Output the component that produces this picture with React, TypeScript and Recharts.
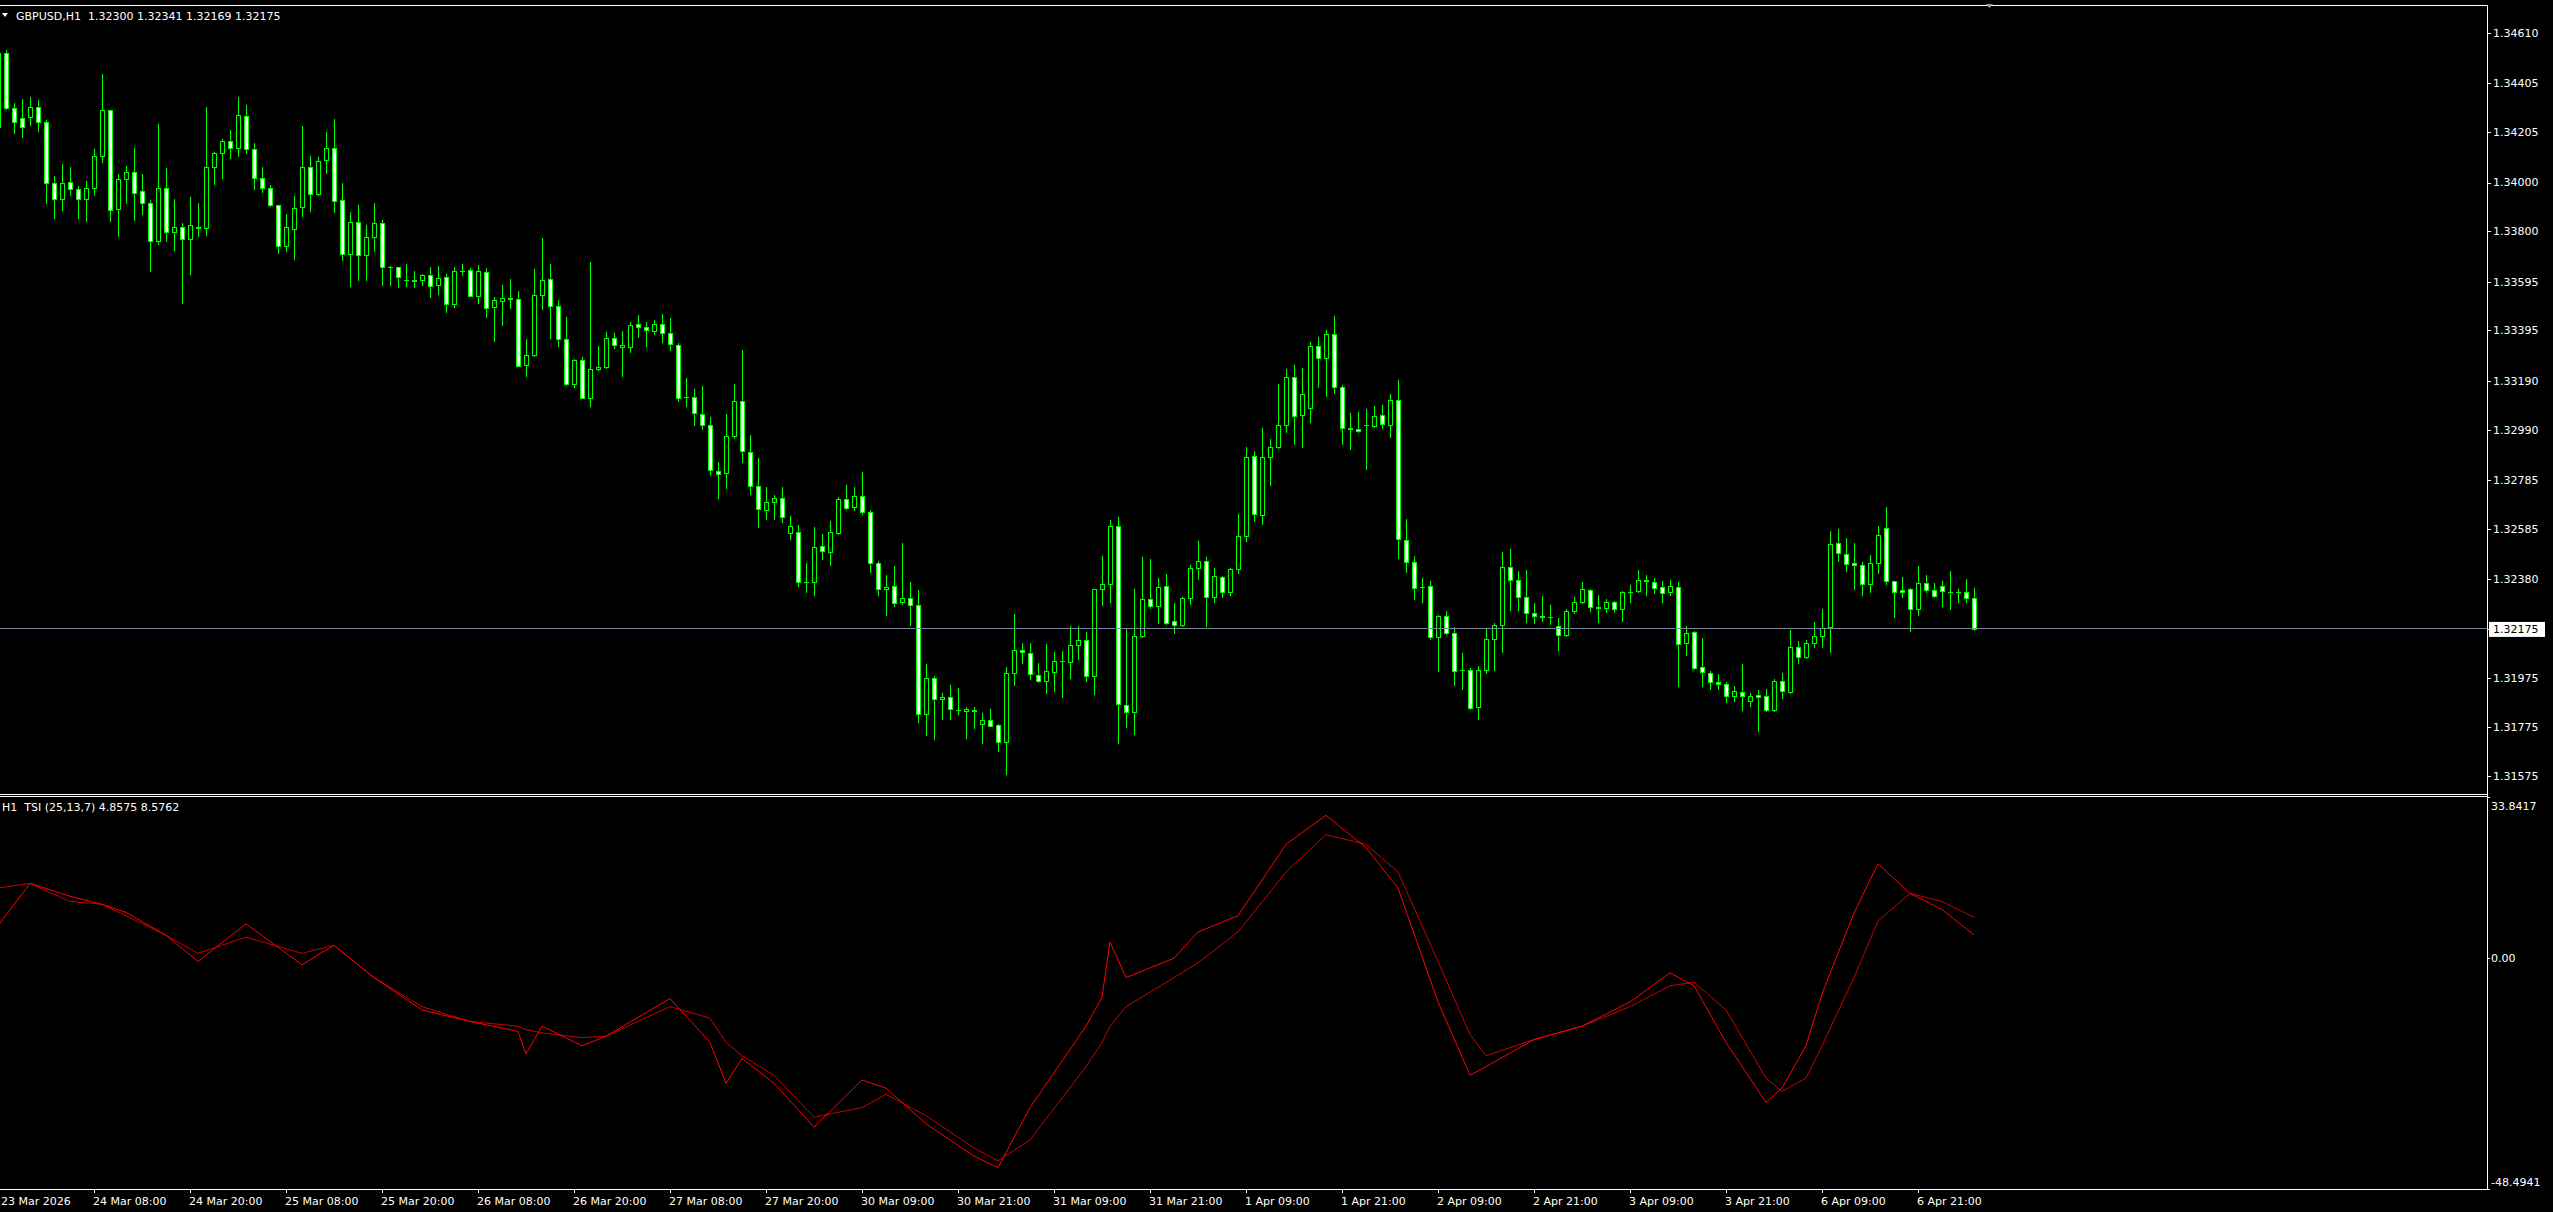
import React from 'react';
import { ComposedChart, Bar, Line, XAxis, YAxis, ReferenceLine } from 'recharts';

// GBPUSD H1 candles, bar 0 = leftmost (partly hidden) bar
const opens = [
  1.34225, 1.34528, 1.34304, 1.34263, 1.34267, 1.3431, 1.34246, 1.33997, 1.33932, 1.34001,
  1.33973, 1.33932, 1.33977, 1.34107, 1.34295, 1.33893, 1.34013, 1.34042, 1.33964, 1.33915,
  1.33759, 1.33977, 1.33799, 1.33817, 1.33768, 1.3382, 1.33813, 1.34062, 1.3412, 1.34169,
  1.3414, 1.34271, 1.34136, 1.34017, 1.33977, 1.33907, 1.33739, 1.33809, 1.33899, 1.34062,
  1.33952, 1.34091, 1.3414, 1.33928, 1.33707, 1.33838, 1.33703, 1.33776, 1.33834, 1.33654,
  1.33654, 1.33602, 1.33602, 1.336, 1.33621, 1.33579, 1.33613, 1.33502, 1.33639, 1.33641,
  1.33538, 1.33633, 1.3349, 1.33515, 1.33527, 1.33523, 1.33253, 1.33294, 1.33542, 1.33605,
  1.33496, 1.3336, 1.33175, 1.33273, 1.3312, 1.33236, 1.33245, 1.33363, 1.33327, 1.33327,
  1.33423, 1.33409, 1.33392, 1.33421, 1.33386, 1.33334, 1.33123, 1.33125, 1.33052, 1.33007,
  1.32822, 1.32811, 1.32963, 1.33107, 1.32899, 1.32759, 1.32663, 1.32694, 1.32709, 1.32566,
  1.32572, 1.32365, 1.32365, 1.32513, 1.32489, 1.32569, 1.32706, 1.32672, 1.32718, 1.32654,
  1.32444, 1.32337, 1.32349, 1.32284, 1.323, 1.32272, 1.31826, 1.31973, 1.31888, 1.31896,
  1.31842, 1.31838, 1.31842, 1.31786, 1.31802, 1.31783, 1.31712, 1.31994, 1.32089, 1.32076,
  1.31988, 1.31961, 1.31998, 1.32044, 1.32039, 1.32108, 1.32131, 1.31982, 1.32337, 1.32358,
  1.32595, 1.31863, 1.31834, 1.32145, 1.32296, 1.32268, 1.32349, 1.32206, 1.3219, 1.323,
  1.32423, 1.32452, 1.32304, 1.32386, 1.32325, 1.32419, 1.32554, 1.32881, 1.3264, 1.32877,
  1.32918, 1.33008, 1.33204, 1.33049, 1.33077, 1.33331, 1.33282, 1.3338, 1.33163, 1.32994,
  1.32991, 1.33008, 1.33004, 1.33049, 1.33008, 1.3311, 1.32537, 1.32448, 1.32348, 1.32349,
  1.32141, 1.32227, 1.32157, 1.32009, 1.32007, 1.31855, 1.32009, 1.32133, 1.3219, 1.32427,
  1.32374, 1.32304, 1.32239, 1.32225, 1.32223, 1.32186, 1.32149, 1.32247, 1.32284, 1.32333,
  1.32262, 1.32259, 1.32284, 1.32255, 1.32326, 1.32329, 1.32372, 1.32368, 1.32345, 1.32325,
  1.32345, 1.32116, 1.32161, 1.32018, 1.31994, 1.31957, 1.31949, 1.319, 1.31916, 1.31879,
  1.31904, 1.319, 1.31845, 1.31961, 1.31916, 1.321, 1.32059, 1.32116, 1.32145, 1.32184,
  1.32525, 1.3248, 1.32443, 1.32435, 1.32357, 1.32443, 1.32586, 1.3237, 1.32333, 1.32337,
  1.32255, 1.32362, 1.32333, 1.32349, 1.32326, 1.32325, 1.32325, 1.323,
];

const highs = [
  1.34535, 1.34542, 1.34324, 1.3434, 1.34349, 1.34338, 1.34256, 1.34027, 1.34076, 1.34064,
  1.33986, 1.34007, 1.34137, 1.34444, 1.34297, 1.34034, 1.34068, 1.34141, 1.34034, 1.33929,
  1.3424, 1.3406, 1.33933, 1.33835, 1.33941, 1.33917, 1.34309, 1.34125, 1.34178, 1.34215,
  1.3435, 1.34317, 1.34162, 1.34064, 1.33989, 1.3391, 1.33872, 1.33945, 1.34231, 1.34109,
  1.34105, 1.34207, 1.3426, 1.33997, 1.3388, 1.33908, 1.33827, 1.33917, 1.33847, 1.3366,
  1.33656, 1.33667, 1.33639, 1.33626, 1.33655, 1.33659, 1.33628, 1.33654, 1.33667, 1.3365,
  1.33663, 1.33651, 1.33532, 1.33581, 1.33606, 1.33557, 1.33361, 1.33646, 1.33773, 1.33666,
  1.3352, 1.3345, 1.33278, 1.33287, 1.33675, 1.33331, 1.33389, 1.33385, 1.33391, 1.33428,
  1.33459, 1.33429, 1.33438, 1.33462, 1.33446, 1.33345, 1.33201, 1.33156, 1.33168, 1.33042,
  1.32857, 1.33053, 1.33177, 1.33315, 1.32969, 1.32874, 1.32756, 1.32722, 1.32756, 1.32637,
  1.326, 1.32444, 1.32591, 1.32563, 1.32617, 1.32715, 1.32764, 1.32756, 1.32817, 1.32661,
  1.32453, 1.32395, 1.32432, 1.32526, 1.32367, 1.32334, 1.32033, 1.31984, 1.31914, 1.31946,
  1.31935, 1.31856, 1.31856, 1.31832, 1.31848, 1.31785, 1.32018, 1.32236, 1.32116, 1.32116,
  1.32035, 1.32114, 1.32081, 1.32085, 1.32187, 1.32187, 1.32163, 1.3234, 1.32473, 1.32621,
  1.32633, 1.32174, 1.32339, 1.32469, 1.32461, 1.32383, 1.324, 1.32281, 1.32304, 1.32437,
  1.32535, 1.32467, 1.32424, 1.32392, 1.32423, 1.32645, 1.32919, 1.32903, 1.32997, 1.32952,
  1.33177, 1.33238, 1.33254, 1.33242, 1.33348, 1.33367, 1.33396, 1.33455, 1.33173, 1.33058,
  1.33062, 1.33074, 1.33087, 1.33091, 1.33136, 1.33193, 1.32625, 1.32473, 1.32383, 1.32371,
  1.32231, 1.32249, 1.32182, 1.32078, 1.32016, 1.32024, 1.32174, 1.32198, 1.32488, 1.32502,
  1.32412, 1.32416, 1.32281, 1.3231, 1.32273, 1.3222, 1.32257, 1.32306, 1.32367, 1.3234,
  1.32314, 1.32298, 1.32288, 1.32329, 1.32355, 1.32416, 1.32396, 1.32382, 1.32371, 1.32375,
  1.32367, 1.32187, 1.32165, 1.32138, 1.32003, 1.31991, 1.31958, 1.31942, 1.32032, 1.31912,
  1.31926, 1.3193, 1.31969, 1.31995, 1.32171, 1.32126, 1.3213, 1.32203, 1.32257, 1.32576,
  1.32584, 1.32547, 1.32526, 1.32449, 1.32477, 1.32596, 1.32674, 1.32372, 1.32387, 1.32342,
  1.32432, 1.32396, 1.32363, 1.32371, 1.32412, 1.32338, 1.32379, 1.32341,
];

const lows = [
  1.3422, 1.34302, 1.34204, 1.34188, 1.34237, 1.34212, 1.33918, 1.33853, 1.33888, 1.33949,
  1.33853, 1.33843, 1.33949, 1.34082, 1.33843, 1.33783, 1.33918, 1.33847, 1.33872, 1.3364,
  1.33749, 1.33759, 1.33724, 1.33509, 1.33628, 1.33783, 1.33787, 1.33994, 1.3402, 1.34102,
  1.3411, 1.34122, 1.33974, 1.33963, 1.33902, 1.3371, 1.33722, 1.33689, 1.33865, 1.33884,
  1.3395, 1.34038, 1.3388, 1.33685, 1.33575, 1.33603, 1.33603, 1.33718, 1.33583, 1.33579,
  1.33571, 1.33575, 1.33571, 1.33581, 1.3353, 1.33546, 1.33472, 1.33493, 1.3362, 1.33536,
  1.33509, 1.33451, 1.33354, 1.33418, 1.33489, 1.33248, 1.33207, 1.33292, 1.33484, 1.33363,
  1.3333, 1.33173, 1.33163, 1.33117, 1.33088, 1.33234, 1.33243, 1.33325, 1.33207, 1.33309,
  1.3337, 1.33333, 1.33379, 1.33349, 1.33316, 1.33108, 1.33085, 1.3301, 1.32994, 1.3281,
  1.32709, 1.32752, 1.32954, 1.32857, 1.32728, 1.3259, 1.32623, 1.32626, 1.32614, 1.32541,
  1.32349, 1.32324, 1.32312, 1.32459, 1.32438, 1.32565, 1.32666, 1.32663, 1.32646, 1.32406,
  1.32315, 1.32232, 1.3227, 1.32275, 1.32193, 1.31796, 1.3174, 1.31726, 1.31807, 1.31808,
  1.31826, 1.31731, 1.3177, 1.31707, 1.31778, 1.31677, 1.31581, 1.31947, 1.32037, 1.31969,
  1.31956, 1.31915, 1.31923, 1.31898, 1.31976, 1.32054, 1.31964, 1.31907, 1.32274, 1.32287,
  1.3171, 1.31776, 1.31747, 1.32143, 1.3226, 1.32198, 1.32196, 1.32157, 1.32185, 1.32276,
  1.32381, 1.32185, 1.32284, 1.32304, 1.32313, 1.32403, 1.32536, 1.32618, 1.32603, 1.32762,
  1.32916, 1.32978, 1.32929, 1.3292, 1.33019, 1.33162, 1.33129, 1.33141, 1.32933, 1.32912,
  1.32979, 1.3283, 1.33002, 1.32995, 1.32961, 1.32463, 1.32409, 1.32299, 1.32287, 1.32133,
  1.32001, 1.32153, 1.31947, 1.31931, 1.31847, 1.31806, 1.31994, 1.32009, 1.32082, 1.32254,
  1.32254, 1.32205, 1.32201, 1.32209, 1.32197, 1.3209, 1.32147, 1.32239, 1.3228, 1.3225,
  1.32205, 1.32246, 1.32246, 1.32209, 1.32283, 1.32325, 1.32313, 1.32321, 1.32287, 1.32315,
  1.31943, 1.3207, 1.32013, 1.31943, 1.31928, 1.31928, 1.31878, 1.31882, 1.31845, 1.31861,
  1.31759, 1.31838, 1.31841, 1.31894, 1.31914, 1.32035, 1.32057, 1.32103, 1.32103, 1.32082,
  1.32454, 1.32413, 1.3234, 1.32315, 1.32326, 1.32405, 1.3236, 1.32225, 1.32304, 1.32168,
  1.32233, 1.32325, 1.32306, 1.3227, 1.32258, 1.32287, 1.32283, 1.32169,
];

const closes = [
  1.34528, 1.34304, 1.34246, 1.34226, 1.3431, 1.34246, 1.33997, 1.33932, 1.33997, 1.33973,
  1.33932, 1.33977, 1.34107, 1.34295, 1.33887, 1.34013, 1.34042, 1.33956, 1.33915, 1.3376,
  1.33977, 1.33799, 1.33817, 1.33768, 1.33825, 1.33813, 1.34062, 1.3412, 1.34169, 1.3414,
  1.34275, 1.34136, 1.34017, 1.33977, 1.33907, 1.33739, 1.33817, 1.33895, 1.34062, 1.33952,
  1.34087, 1.3414, 1.33923, 1.33707, 1.33838, 1.33703, 1.33776, 1.33834, 1.33654, 1.33655,
  1.33613, 1.33603, 1.33596, 1.33621, 1.33575, 1.33609, 1.33502, 1.33639, 1.3364, 1.33538,
  1.33639, 1.33486, 1.33519, 1.33527, 1.33523, 1.3325, 1.33294, 1.33542, 1.336, 1.33496,
  1.3336, 1.33175, 1.33273, 1.3312, 1.33236, 1.33245, 1.33363, 1.33334, 1.33334, 1.33416,
  1.33409, 1.33397, 1.33421, 1.33386, 1.33339, 1.3312, 1.33124, 1.33056, 1.33007, 1.32823,
  1.32808, 1.32963, 1.33107, 1.32902, 1.32759, 1.32664, 1.32694, 1.32709, 1.32634, 1.32596,
  1.32365, 1.32366, 1.3251, 1.32493, 1.32572, 1.32707, 1.32669, 1.32718, 1.32655, 1.32444,
  1.32337, 1.32346, 1.32279, 1.323, 1.32272, 1.31826, 1.31973, 1.31888, 1.31896, 1.31847,
  1.31843, 1.31847, 1.31841, 1.31802, 1.3178, 1.31712, 1.31994, 1.32089, 1.32081, 1.31991,
  1.31961, 1.32002, 1.32044, 1.32045, 1.32108, 1.32129, 1.31982, 1.32337, 1.32358, 1.32595,
  1.31867, 1.31834, 1.32145, 1.32296, 1.32268, 1.32345, 1.32198, 1.3219, 1.323, 1.32423,
  1.32452, 1.32304, 1.3239, 1.32325, 1.32419, 1.32554, 1.32877, 1.32644, 1.32877, 1.32918,
  1.33008, 1.33204, 1.33044, 1.33134, 1.33331, 1.33282, 1.3338, 1.33163, 1.32997, 1.32995,
  1.32983, 1.33009, 1.33044, 1.33012, 1.3311, 1.32542, 1.32448, 1.32341, 1.32347, 1.32141,
  1.32227, 1.32157, 1.32003, 1.32008, 1.31852, 1.32007, 1.32133, 1.32191, 1.32427, 1.32374,
  1.32304, 1.32239, 1.32228, 1.32226, 1.32222, 1.32149, 1.32247, 1.32284, 1.32337, 1.32263,
  1.32263, 1.32284, 1.32255, 1.32325, 1.32327, 1.32374, 1.32373, 1.32341, 1.32321, 1.32349,
  1.32112, 1.32157, 1.32017, 1.31998, 1.31957, 1.3195, 1.319, 1.3192, 1.319, 1.319,
  1.31896, 1.31842, 1.31961, 1.3192, 1.321, 1.32059, 1.32116, 1.32145, 1.32178, 1.32521,
  1.32486, 1.32439, 1.32435, 1.32357, 1.32443, 1.32558, 1.3237, 1.32325, 1.32325, 1.32255,
  1.32362, 1.32333, 1.32308, 1.32329, 1.32327, 1.32326, 1.323, 1.32175,
];

const tsiBars = [
  0, 4, 9, 13, 16, 21, 25, 31, 38, 42, 47, 53, 59, 65, 66, 68, 73, 76, 84, 89, 91, 93, 97, 102,
  108, 111, 116, 122, 125, 129, 136, 138, 139, 141, 147, 150, 155, 161, 166, 171, 175, 180, 184,
  186, 192, 198, 204, 209, 212, 216, 221, 223, 226, 228, 232, 235, 239, 243, 247,
];
const tsiMain = [
  6.8, 15.7, 13.0, 11.3, 9.6, 4.8, -0.7, 7.2, -1.4, 2.7, -4.1, -10.9, -13.3, -15.4, -20.1, -14.3,
  -18.4, -16.4, -8.5, -17.7, -26.3, -21.1, -26.3, -35.5, -25.6, -27.3, -34.8, -41.6, -44.0, -31.4,
  -14.3, -8.2, 3.4, -4.1, 0, 5.5, 8.9, 23.9, 30.0, 23.2, 14.7, -9.2, -24.6, -22.8, -17.1, -14.3,
  -9.2, -3.1, -5.8, -17.7, -30.3, -27.3, -18.4, -7.5, 9.5, 19.8, 13.6, 10.2, 4.8575,
];
const tsiSignal = [
  14.7, 15.7, 11.9, 11.3, 8.9, 4.8, 1.0, 4.4, 1.0, 2.7, -4.1, -10.2, -13.3, -14.3, -15.0, -15.7,
  -16.7, -16.4, -10.2, -12.6, -17.7, -20.5, -24.6, -33.4, -31.4, -28.6, -33.1, -39.9, -42.6, -38.2,
  -22.8, -17.7, -14.3, -10.2, -4.1, -1.0, 5.5, 18.1, 25.9, 23.9, 18.1, -0.7, -16.0, -20.5, -17.1,
  -14.3, -10.2, -5.8, -5.1, -10.9, -25.2, -28.0, -25.2, -18.4, -4.1, 7.8, 13.6, 11.9, 8.5762,
];

const priceTicks = [
  1.3461, 1.34405, 1.34205, 1.34, 1.338, 1.33595, 1.33395, 1.3319, 1.3299, 1.32785, 1.32585,
  1.3238, 1.32175, 1.31975, 1.31775, 1.31575,
];
const tsiTicks = [33.8417, 0, -48.4941];

const timeTickBars = [0, 12, 24, 36, 48, 60, 72, 84, 96, 108, 120, 132, 144, 156, 168, 180, 192, 204, 216, 228, 240];
const timeLabels = [
  '23 Mar 2026', '24 Mar 08:00', '24 Mar 20:00', '25 Mar 08:00', '25 Mar 20:00', '26 Mar 08:00',
  '26 Mar 20:00', '27 Mar 08:00', '27 Mar 20:00', '30 Mar 09:00', '30 Mar 21:00', '31 Mar 09:00',
  '31 Mar 21:00', '1 Apr 09:00', '1 Apr 21:00', '2 Apr 09:00', '2 Apr 21:00', '3 Apr 09:00',
  '3 Apr 21:00', '6 Apr 09:00', '6 Apr 21:00',
];

const symbol = 'GBPUSD,H1';
const indicatorName = 'H1  TSI (25,13,7)';

const W = 2553;
const H = 1212;
const AXIS_X = 2487;
const MAIN_H = 795;
const IND_H = H - MAIN_H;
const X_DOMAIN: [number, number] = [0, 311.125];
const GREEN = '#00ff00';
const FONT = '"DejaVu Sans", Tahoma, sans-serif';

const lastIdx = closes.length - 1;
const lastPrice = closes[lastIdx];

const rows = opens.map((o, i) => ({
  i,
  open: o,
  high: highs[i],
  low: lows[i],
  close: closes[i],
  tsi: null as number | null,
  signal: null as number | null,
}));
tsiBars.forEach((b, k) => {
  rows[b].tsi = tsiMain[k];
  rows[b].signal = tsiSignal[k];
});

function Candle(props: any) {
  const { x, y, width, height, payload } = props;
  if (x == null || y == null || !payload) return null;
  const top = Math.min(y, y + height);
  const h = Math.abs(height);
  const { open, close, high, low } = payload;
  const toY = (v: number) => (high === low ? top : top + ((high - v) / (high - low)) * h);
  const cx = Math.round(x + width / 2);
  const bTop = Math.round(toY(Math.max(open, close)));
  const bBot = Math.round(toY(Math.min(open, close)));
  const bull = close >= open;
  return (
    <g shapeRendering="crispEdges">
      <line x1={cx + 0.5} x2={cx + 0.5} y1={Math.round(top)} y2={Math.round(top + h) + 1} stroke={GREEN} />
      {bBot - bTop < 1 ? (
        <line x1={cx - 2} x2={cx + 3} y1={bTop + 0.5} y2={bTop + 0.5} stroke={GREEN} />
      ) : (
        <rect x={cx - 1.5} y={bTop + 0.5} width={4} height={bBot - bTop} fill={bull ? '#000' : '#fff'} stroke={GREEN} />
      )}
    </g>
  );
}

function PriceTick(props: any) {
  const { y, payload } = props;
  const v = payload.value as number;
  const isLast = Math.abs(v - lastPrice) < 1e-7;
  return (
    <g>
      <line x1={AXIS_X} x2={AXIS_X + 4} y1={y + 0.5} y2={y + 0.5} stroke="#fff" shapeRendering="crispEdges" />
      {isLast && <rect x={AXIS_X + 2} y={y - 7} width={56} height={15} fill="#fff" />}
      <text x={AXIS_X + 6} y={y} dy="0.36em" fill={isLast ? '#000' : '#fff'} fontSize={11} fontFamily={FONT}>
        {v.toFixed(5)}
      </text>
    </g>
  );
}

function TsiTick(props: any) {
  const { y, payload, index } = props;
  const v = payload.value as number;
  const ty = index === 0 ? y + 9 : index === tsiTicks.length - 1 ? y - 7 : y;
  return (
    <g>
      <line x1={AXIS_X} x2={AXIS_X + 3} y1={y + 0.5} y2={y + 0.5} stroke="#fff" shapeRendering="crispEdges" />
      <text x={AXIS_X + 4} y={ty} dy="0.36em" fill="#fff" fontSize={11} fontFamily={FONT}>
        {v === 0 ? '0.00' : v.toFixed(4)}
      </text>
    </g>
  );
}

function TimeTick(props: any) {
  const { x, payload } = props;
  const k = timeTickBars.indexOf(payload.value);
  return (
    <g>
      {k > 0 && <line x1={x + 0.5} x2={x + 0.5} y1={IND_H - 23} y2={IND_H - 19} stroke="#fff" shapeRendering="crispEdges" />}
      <text x={Math.max(1, x - 1)} y={IND_H - 7} fill="#fff" fontSize={11} fontFamily={FONT}>
        {timeLabels[k]}
      </text>
    </g>
  );
}

export default function App() {
  const header = `${symbol}  ${opens[lastIdx].toFixed(5)} ${highs[lastIdx].toFixed(5)} ${lows[lastIdx].toFixed(5)} ${closes[lastIdx].toFixed(5)}`;
  const indHeader = `${indicatorName} ${tsiMain[tsiMain.length - 1].toFixed(4)} ${tsiSignal[tsiSignal.length - 1].toFixed(4)}`;
  return (
    <div style={{ position: 'absolute', left: 0, top: 0, width: W, height: H, background: '#000', overflow: 'hidden' }}>
      <div style={{ position: 'absolute', left: 0, top: 0 }}>
        <ComposedChart width={W} height={MAIN_H} data={rows} margin={{ top: 5, right: 0, bottom: 1, left: -2 }}>
          <XAxis dataKey="i" type="number" domain={X_DOMAIN} hide allowDataOverflow />
          <YAxis
            orientation="right"
            width={66}
            domain={[1.315001, 1.347257]}
            allowDataOverflow
            ticks={priceTicks}
            interval={0}
            axisLine={false}
            tickLine={false}
            tick={(p: any) => <PriceTick {...p} />}
          />
          <ReferenceLine y={lastPrice} stroke="#778899" shapeRendering="crispEdges" />
          <Bar
            dataKey={(d: any) => [d.low, d.high]}
            barSize={5}
            shape={(p: any) => <Candle {...p} />}
            isAnimationActive={false}
          />
        </ComposedChart>
      </div>
      <div style={{ position: 'absolute', left: 0, top: MAIN_H }}>
        <ComposedChart width={W} height={IND_H} data={rows} margin={{ top: 2, right: 0, bottom: 0, left: -2 }}>
          <XAxis
            dataKey="i"
            type="number"
            domain={X_DOMAIN}
            allowDataOverflow
            ticks={timeTickBars}
            interval={0}
            height={23}
            axisLine={false}
            tickLine={false}
            tick={(p: any) => <TimeTick {...p} />}
          />
          <YAxis
            orientation="right"
            width={66}
            domain={[-48.4941, 33.8417]}
            allowDataOverflow
            ticks={tsiTicks}
            interval={0}
            axisLine={false}
            tickLine={false}
            tick={(p: any) => <TsiTick {...p} />}
          />
          <Line dataKey="signal" stroke="#c80000" strokeWidth={1} dot={false} connectNulls isAnimationActive={false} />
          <Line dataKey="tsi" stroke="#ff0000" strokeWidth={1} dot={false} connectNulls isAnimationActive={false} />
        </ComposedChart>
      </div>
      <svg width={W} height={H} style={{ position: 'absolute', left: 0, top: 0, pointerEvents: 'none' }}>
        <g stroke="#fff" shapeRendering="crispEdges">
          <line x1={0} x2={AXIS_X + 1} y1={5.5} y2={5.5} />
          <line x1={0} x2={AXIS_X + 1} y1={794.5} y2={794.5} />
          <line x1={0} x2={AXIS_X + 1} y1={796.5} y2={796.5} />
          <line x1={0} x2={AXIS_X + 1} y1={1189.5} y2={1189.5} />
          <line x1={AXIS_X + 0.5} x2={AXIS_X + 0.5} y1={5} y2={1190} />
        </g>
        <polygon points="2,13 8,13 5,17" fill="#fff" />
        <polygon points="1986,4 1993,4 1989.5,8" fill="#a0a0a0" />
        <text x={16} y={20} fill="#fff" fontSize={11} fontFamily={FONT} style={{ whiteSpace: 'pre' }}>
          {header}
        </text>
        <text x={2} y={811} fill="#fff" fontSize={11} fontFamily={FONT} style={{ whiteSpace: 'pre' }}>
          {indHeader}
        </text>
      </svg>
    </div>
  );
}
